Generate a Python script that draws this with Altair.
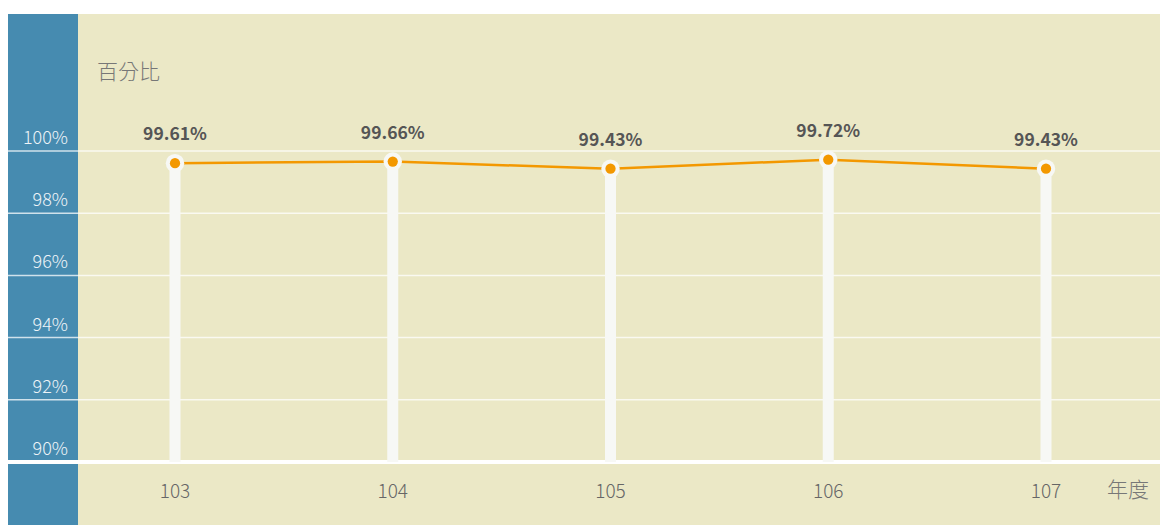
import altair as alt
import pandas as pd

years = [103, 104, 105, 106, 107]
values = [99.61, 99.66, 99.43, 99.72, 99.43]
labels = ["99.61%", "99.66%", "99.43%", "99.72%", "99.43%"]
y_ticks = [90, 92, 94, 96, 98, 100]
y_tick_labels = ["90%", "92%", "94%", "96%", "98%", "100%"]
y_title = "百分比"
x_title = "年度"

BEIGE = "#ebe8c6"
BLUE = "#468bb0"
ORANGE = "#f39800"
FONT = "Noto Sans CJK TC"

W, H = 1152, 511

df = pd.DataFrame({"year": years, "value": values, "label": labels, "base": [90] * len(years)})
ticks = pd.DataFrame({"v": y_ticks, "t": y_tick_labels})
one = pd.DataFrame({"a": [0]})

yscale = alt.Scale(domain=[90, 100], range=[448, 137], zero=False, nice=False)
xscale = alt.Scale(domain=[103, 107], range=[167, 1038], zero=False, nice=False)

band = alt.Chart(one).mark_rect(color=BLUE).encode(
    x=alt.value(0), x2=alt.value(70), y=alt.value(0), y2=alt.value(H)
)

grid = alt.Chart(ticks).transform_filter("datum.v > 90").mark_rule(
    color="white", strokeWidth=1.5, opacity=0.75
).encode(
    y=alt.Y("v:Q", scale=yscale, axis=None), x=alt.value(0), x2=alt.value(W)
)

baseline = alt.Chart(ticks).transform_filter("datum.v == 90").mark_rule(
    color="white", strokeWidth=4
).encode(
    y=alt.Y("v:Q", scale=yscale, axis=None), x=alt.value(0), x2=alt.value(W)
)

ylabels = alt.Chart(ticks).mark_text(
    align="right", baseline="bottom", dy=-3, font=FONT, fontSize=18,
    fontWeight=300, color="#eef4f8"
).encode(
    y=alt.Y("v:Q", scale=yscale, axis=None), x=alt.value(60), text="t:N"
)

stems = alt.Chart(df).mark_rule(color="#f7f8f5", strokeWidth=11).encode(
    x=alt.X("year:Q", scale=xscale, axis=None),
    y=alt.Y("value:Q", scale=yscale, axis=None),
    y2="base:Q",
)

line = alt.Chart(df).mark_line(color=ORANGE, strokeWidth=2.5).encode(
    x=alt.X("year:Q", scale=xscale, axis=None),
    y=alt.Y("value:Q", scale=yscale, axis=None),
)

outer = alt.Chart(df).mark_circle(color="#f7f8f5", opacity=1, size=340).encode(
    x=alt.X("year:Q", scale=xscale, axis=None),
    y=alt.Y("value:Q", scale=yscale, axis=None),
)

inner = alt.Chart(df).mark_circle(color=ORANGE, opacity=1, size=105).encode(
    x=alt.X("year:Q", scale=xscale, axis=None),
    y=alt.Y("value:Q", scale=yscale, axis=None),
)

vlabels = alt.Chart(df).mark_text(
    baseline="middle", dy=-28, font=FONT, fontSize=17.5, fontWeight="bold", color="#555555"
).encode(
    x=alt.X("year:Q", scale=xscale, axis=None),
    y=alt.Y("value:Q", scale=yscale, axis=None),
    text="label:N",
)

xlabels = alt.Chart(df).mark_text(
    baseline="middle", font=FONT, fontSize=19, fontWeight=300, color="#666666"
).encode(
    x=alt.X("year:Q", scale=xscale, axis=None),
    y=alt.value(478),
    text="year:N",
)

ytitle = alt.Chart(one).mark_text(
    align="left", baseline="middle", font=FONT, fontSize=21, fontWeight=300, color="#777777"
).encode(x=alt.value(89), y=alt.value(59), text=alt.value(y_title))

xtitle = alt.Chart(one).mark_text(
    align="left", baseline="middle", font=FONT, fontSize=21, fontWeight=300, color="#777777"
).encode(x=alt.value(1099), y=alt.value(477), text=alt.value(x_title))

chart = alt.layer(
    band, grid, baseline, ylabels, stems, line, outer, inner, vlabels, xlabels, ytitle, xtitle
).properties(
    width=W, height=H,
    autosize=alt.AutoSizeParams(type="none"),
    padding={"left": 0, "top": 6, "right": 0, "bottom": 0},
).configure_view(fill=BEIGE, strokeWidth=0)

chart.save("out.html", embed_options={"renderer": "svg", "actions": False})
